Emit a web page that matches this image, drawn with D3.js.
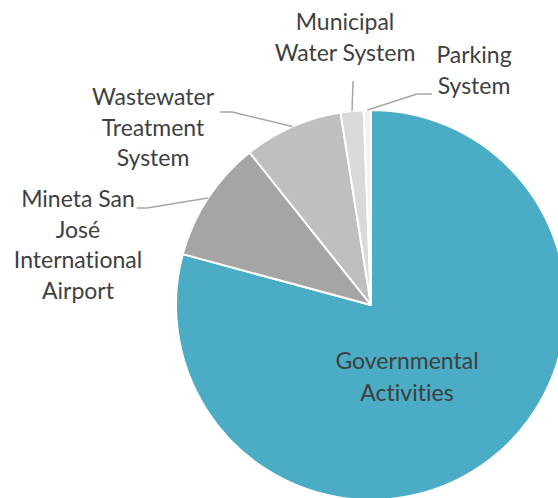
<!DOCTYPE html>
<html>
<head>
<meta charset="utf-8">
<script src="https://cdn.jsdelivr.net/npm/d3@7"></script>
<style>
  html, body { margin: 0; padding: 0; background: #fff; }
  svg { display: block; }
  text { font-family: Lato, "Open Sans", sans-serif; fill: #3f3f3f; font-variant-ligatures: none; }
</style>
</head>
<body>
<svg id="chart" width="558" height="498"></svg>
<script>
// Net position share by activity (percent)
const categories = [
  "Governmental Activities",
  "Mineta San José International Airport",
  "Wastewater Treatment System",
  "Municipal Water System",
  "Parking System"
];
const values = [79.2, 10.1, 8.2, 1.9, 0.6];
const labelLines = [
  ["Governmental", "Activities"],
  ["Mineta San", "José", "International", "Airport"],
  ["Wastewater", "Treatment", "System"],
  ["Municipal", "Water System"],
  ["Parking", "System"]
];
const colors = ["#4BACC6", "#A5A5A5", "#BFBFBF", "#D9D9D9", "#F2F2F2"];

// Label placement: text centre x, first baseline y, leader elbow/end (null = none)
const labelLayout = [
  { x: 407, y: 369, elbow: null, end: null },
  { x: 78,  y: 207, elbow: [147, 208], end: [137, 208] },
  { x: 153, y: 105, elbow: [232, 112], end: [220, 112] },
  { x: 345, y: 30,  elbow: null, end: [353, 81] },
  { x: 474, y: 63,  elbow: [417, 94], end: [432, 94] }
];

const width = 558, height = 498;
const cx = 371, cy = 305, radius = 195;
const fontSize = 23, lineGap = 30.5;

const svg = d3.select("#chart");
const g = svg.append("g").attr("transform", `translate(${cx},${cy})`);

const data = categories.map((c, i) => ({ name: c, value: values[i], i }));

const pie = d3.pie().value(d => d.value).sort(null);
const arcs = pie(data);
const arc = d3.arc().innerRadius(0).outerRadius(radius);

g.selectAll("path.slice")
  .data(arcs)
  .join("path")
  .attr("class", "slice")
  .attr("d", arc)
  .attr("fill", d => colors[d.data.i])
  .attr("stroke", "#fff")
  .attr("stroke-width", 2)
  .attr("stroke-linejoin", "round");

// Leader lines from the outer edge at each slice's mid-angle
const outerPoint = d => {
  const a = (d.startAngle + d.endAngle) / 2;
  return [cx + Math.sin(a) * radius, cy - Math.cos(a) * radius];
};

arcs.forEach((d, i) => {
  const L = labelLayout[i];
  if (!L.end) return;
  const pts = [outerPoint(d)];
  if (L.elbow) pts.push(L.elbow);
  pts.push(L.end);
  svg.append("path")
    .attr("d", d3.line()(pts))
    .attr("fill", "none")
    .attr("stroke", "#A6A6A6")
    .attr("stroke-width", 1.5);
});

// Labels
arcs.forEach((d, i) => {
  const L = labelLayout[i];
  const t = svg.append("text")
    .attr("text-anchor", "middle")
    .attr("font-size", fontSize);
  labelLines[i].forEach((line, k) => {
    t.append("tspan")
      .attr("x", L.x)
      .attr("y", L.y + k * (i === 0 ? 32 : lineGap))
      .text(line);
  });
});
</script>
</body>
</html>
